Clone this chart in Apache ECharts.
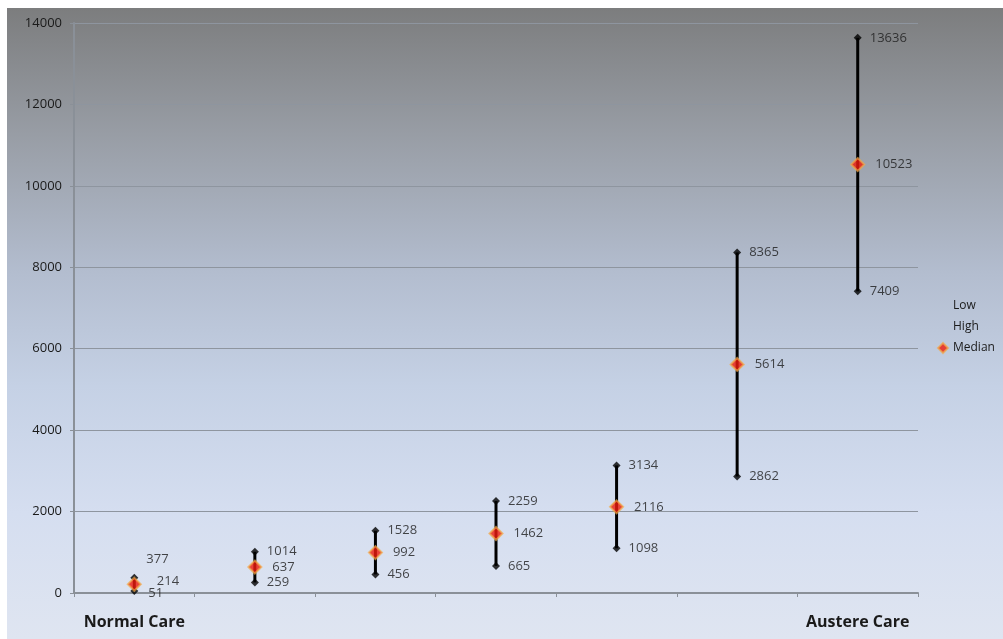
<!DOCTYPE html>
<html>
<head>
<meta charset="utf-8">
<script src="https://cdn.jsdelivr.net/npm/echarts@6/dist/echarts.min.js"></script>
<style>
html,body{margin:0;padding:0;background:#ffffff;width:1003px;height:639px;overflow:hidden;}
#frame{position:absolute;left:7px;top:8px;width:996px;height:631px;
background:linear-gradient(to bottom,#7c7d7e 0%,#989da5 20%,#b3bdcf 42%,#c5d1e5 60%,#d5def0 80%,#dfe5f1 100%);}
#chart{width:996px;height:631px;}
</style>
</head>
<body>
<div id="frame"><div id="chart"></div></div>
<script>
const categories = ['Normal Care', '', '', '', '', '', 'Austere Care'];
const lowValues = [51, 259, 456, 665, 1098, 2862, 7409];
const highValues = [377, 1014, 1528, 2259, 3134, 8365, 13636];
const medianValues = [214, 637, 992, 1462, 2116, 5614, 10523];
const yTicks = [0, 2000, 4000, 6000, 8000, 10000, 12000, 14000];

const FONT = 'Open Sans';
const labelBase = {show: true, position: 'right', distance: 8, fontFamily: FONT, fontSize: 13, color: '#1a1a1a'};

function pts(vals, firstOffset) {
  return vals.map((v, i) => {
    const d = {value: [i, v]};
    if (i === 0 && firstOffset) d.label = {offset: firstOffset};
    return d;
  });
}

const chart = echarts.init(document.getElementById('chart'), null, {renderer: 'canvas'});
chart.setOption({
  backgroundColor: 'transparent',
  animation: false,
  grid: {left: 67, right: 85, top: 15, bottom: 46},
  legend: {
    orient: 'vertical', left: 925, top: 287,
    itemWidth: 10, itemHeight: 10, itemGap: 9,
    textStyle: {fontFamily: FONT, fontSize: 12, color: '#1a1a1a'},
    data: [{name: 'Low', icon: 'none'}, {name: 'High', icon: 'none'}, {name: 'Median', icon: 'diamond'}]
  },
  xAxis: {
    type: 'category',
    data: categories,
    boundaryGap: true,
    axisLine: {lineStyle: {color: '#8a9098', width: 2}},
    axisTick: {show: true, length: 4, lineStyle: {color: '#8a9098'}},
    axisLabel: {interval: 0, margin: 21, fontFamily: FONT, fontSize: 16, fontWeight: 'bold', color: '#1a1a1a'},
    splitLine: {show: false}
  },
  yAxis: {
    type: 'value',
    min: yTicks[0], max: yTicks[yTicks.length - 1], interval: 2000,
    axisLine: {show: true, lineStyle: {color: '#8a9098', width: 2}},
    axisTick: {show: true, length: 4, lineStyle: {color: '#8a9098'}},
    axisLabel: {margin: 12, fontFamily: FONT, fontSize: 13, color: '#1a1a1a', formatter: v => String(v)},
    splitLine: {lineStyle: {color: '#8e959f', width: 1}}
  },
  series: [
    {
      name: 'HiLo', type: 'custom', z: 1,
      data: lowValues.map((l, i) => [i, l, highValues[i]]),
      encode: {x: 0, y: [1, 2]},
      renderItem: function (params, api) {
        const a = api.coord([api.value(0), api.value(1)]);
        const b = api.coord([api.value(0), api.value(2)]);
        return {type: 'line', shape: {x1: a[0], y1: a[1], x2: b[0], y2: b[1]},
          style: {stroke: '#000', lineWidth: 3}};
      }
    },
    {
      name: 'Low', type: 'scatter', z: 3, symbol: 'diamond', symbolSize: 8,
      itemStyle: {color: '#000'},
      label: Object.assign({}, labelBase),
      data: pts(lowValues, [2, 2])
    },
    {
      name: 'High', type: 'scatter', z: 3, symbol: 'diamond', symbolSize: 8,
      itemStyle: {color: '#000'},
      label: Object.assign({}, labelBase),
      data: pts(highValues, [0, -18])
    },
    {
      name: 'Median', type: 'scatter', z: 4, symbol: 'diamond', symbolSize: 13,
      itemStyle: {color: '#ee1c0e', borderColor: 'rgba(242,170,70,0.85)', borderWidth: 2},
      label: Object.assign({}, labelBase, {distance: 10}),
      data: pts(medianValues, [5, -3])
    }
  ]
});
</script>
</body>
</html>
